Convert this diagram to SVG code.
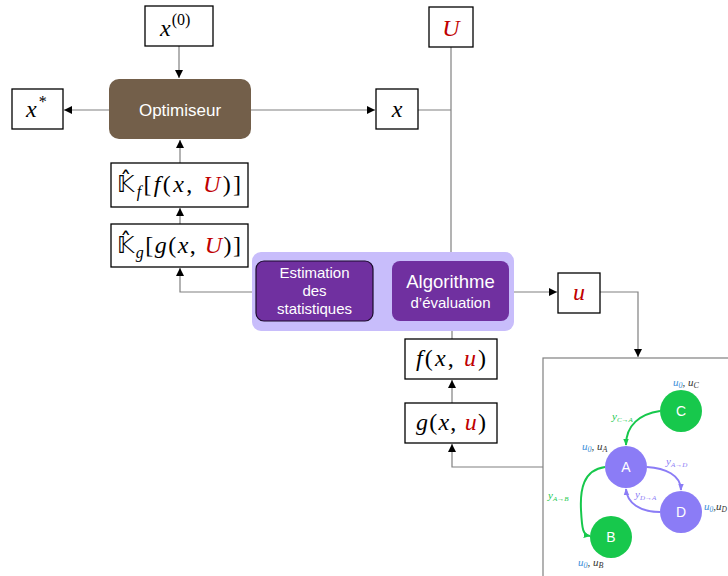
<svg xmlns="http://www.w3.org/2000/svg" width="728" height="576" viewBox="0 0 728 576">
<defs>
<marker id="ah" viewBox="0 0 10 10" refX="10" refY="5" markerWidth="8" markerHeight="8" orient="auto-start-reverse" markerUnits="userSpaceOnUse"><path d="M0,0 L10,5 L0,10 z" fill="#000"/></marker>
<marker id="ag" viewBox="0 0 10 10" refX="9" refY="5" markerWidth="7" markerHeight="7" orient="auto" markerUnits="userSpaceOnUse"><path d="M0,1 L10,5 L0,9 z" fill="#17c84c"/></marker>
<marker id="ap" viewBox="0 0 10 10" refX="9" refY="5" markerWidth="7" markerHeight="7" orient="auto" markerUnits="userSpaceOnUse"><path d="M0,1 L10,5 L0,9 z" fill="#8b7cf6"/></marker>
<style>
.box{fill:#fff;stroke:#000;stroke-width:1.3}
.m{font-family:"Liberation Serif","DejaVu Serif",serif;font-style:italic;font-size:24px;fill:#000}
.n{font-style:normal}
.r{fill:#c00000}
.ln{fill:none;stroke:#808080;stroke-width:1.2}
.w{font-family:"Liberation Sans",Arial,sans-serif;fill:#fff;text-anchor:middle}
.sm{font-family:"Liberation Serif","DejaVu Serif",serif;font-style:italic;font-size:11px}
.g{fill:#17c84c}
.p{fill:#8b7cf6}
.bl{fill:#3b8fd9}
.dk{fill:#333}
.bb{font-family:"DejaVu Sans",sans-serif;font-style:normal;font-size:23px}
</style>
</defs>
<rect width="728" height="576" fill="#fff"/>

<g id="connectors">
<path class="ln" d="M179,46 V78" marker-end="url(#ah)"/>
<path class="ln" d="M109,110 H64" marker-end="url(#ah)"/>
<path class="ln" d="M251,110 H375" marker-end="url(#ah)"/>
<path class="ln" d="M418,110 H451"/>
<path class="ln" d="M451,47 V261" marker-end="url(#ah)"/>
<path class="ln" d="M180,163 V140" marker-end="url(#ah)"/>
<path class="ln" d="M180,224 V208" marker-end="url(#ah)"/>
<path class="ln" d="M256,292 H180 V268" marker-end="url(#ah)"/>
<path class="ln" d="M392,292 H374" marker-end="url(#ah)"/>
<path class="ln" d="M509,292 H557" marker-end="url(#ah)"/>
<path class="ln" d="M600,292 H638 V357" marker-end="url(#ah)"/>
<path class="ln" d="M452,339 V322" marker-end="url(#ah)"/>
<path class="ln" d="M452,403 V380" marker-end="url(#ah)"/>
<path class="ln" d="M543,467 H452 V444" marker-end="url(#ah)"/>
</g>

<g id="x0">
<rect class="box" x="145" y="6" width="68" height="40"/>
<text class="m" x="160" y="36">x<tspan class="n" font-size="16" dy="-11" dx="1">(0)</tspan></text>
</g>

<g id="optimiseur">
<rect x="109" y="79" width="142" height="60" rx="10" fill="#735f4a"/>
<text class="w" x="180" y="116" font-size="17" fill="#f2f2f2">Optimiseur</text>
</g>

<g id="xstar">
<rect class="box" x="12" y="89" width="51" height="40"/>
<text class="m" x="26" y="117">x<tspan class="n" font-size="16" dy="-10" dx="2">*</tspan></text>
</g>

<g id="U">
<rect class="box" x="429" y="7" width="44" height="40"/>
<text class="m r" x="451" y="36" text-anchor="middle">U</text>
</g>

<g id="x">
<rect class="box" x="376" y="89" width="42" height="40"/>
<text class="m" x="397" y="117" text-anchor="middle">x</text>
</g>

<g id="Kf">
<rect class="box" x="111" y="163" width="137" height="44"/>
<text class="m" x="117" y="192" textLength="124" lengthAdjust="spacing"><tspan class="bb">𝕂̂</tspan><tspan font-size="16" dy="5">f</tspan><tspan class="n" dy="-5">[</tspan>f<tspan class="n">(</tspan>x<tspan class="n">, </tspan><tspan class="r">U</tspan><tspan class="n">)]</tspan></text>
</g>

<g id="Kg">
<rect class="box" x="111" y="224" width="137" height="43"/>
<text class="m" x="117" y="253" textLength="124" lengthAdjust="spacing"><tspan class="bb">𝕂̂</tspan><tspan font-size="16" dy="5">g</tspan><tspan class="n" dy="-5">[</tspan>g<tspan class="n">(</tspan>x<tspan class="n">, </tspan><tspan class="r">U</tspan><tspan class="n">)]</tspan></text>
</g>

<g id="group-bg">
<rect x="252" y="252" width="262" height="79" rx="9" fill="#c8bdfb"/>
</g>

<g id="estimation">
<rect x="256" y="261" width="117" height="60" rx="8" fill="#7030a0" stroke="#1a0a2a" stroke-width="1.2"/>
<text class="w" font-size="15"><tspan x="314.5" y="278">Estimation</tspan><tspan x="314.5" y="296">des</tspan><tspan x="314.5" y="314">statistiques</tspan></text>
</g>

<g id="algorithme">
<rect x="392" y="261" width="117" height="60" rx="8" fill="#7030a0"/>
<text class="w" x="450.5" y="288" font-size="18.5">Algorithme</text>
<text class="w" x="450.5" y="308" font-size="15">d’évaluation</text>
</g>

<g id="u">
<rect class="box" x="558" y="273" width="42" height="40"/>
<text class="m r" x="579" y="300" text-anchor="middle">u</text>
</g>

<g id="f">
<rect class="box" x="405" y="339" width="92" height="40"/>
<text class="m" x="451" y="366" text-anchor="middle" textLength="70" lengthAdjust="spacing">f<tspan class="n">(</tspan>x<tspan class="n">, </tspan><tspan class="r">u</tspan><tspan class="n">)</tspan></text>
</g>

<g id="g">
<rect class="box" x="405" y="403" width="92" height="40"/>
<text class="m" x="451" y="430" text-anchor="middle" textLength="70" lengthAdjust="spacing">g<tspan class="n">(</tspan>x<tspan class="n">, </tspan><tspan class="r">u</tspan><tspan class="n">)</tspan></text>
</g>

<g id="graph-panel">
<rect x="543" y="358" width="200" height="230" fill="#fff" stroke="#808080" stroke-width="1.2"/>
<path d="M660,411 C640,414 626,425 626,445" fill="none" stroke="#17c84c" stroke-width="2" marker-end="url(#ag)"/>
<path d="M605,467 C583,470 580,490 581,510 C582,530 583,535 590,536" fill="none" stroke="#17c84c" stroke-width="2" marker-end="url(#ag)"/>
<path d="M647,467 C665,468 681,475 681,490" fill="none" stroke="#8b7cf6" stroke-width="2" marker-end="url(#ap)"/>
<path d="M660,512 C640,512 627,503 626,489" fill="none" stroke="#8b7cf6" stroke-width="2" marker-end="url(#ap)"/>
<circle cx="681" cy="411" r="21" fill="#17c84c"/>
<circle cx="626" cy="467" r="21" fill="#8b7cf6"/>
<circle cx="681" cy="512" r="21" fill="#8b7cf6"/>
<circle cx="611" cy="537" r="21" fill="#17c84c"/>
<text class="w" x="681" y="416" font-size="14">C</text>
<text class="w" x="626" y="472" font-size="14">A</text>
<text class="w" x="681" y="517" font-size="14">D</text>
<text class="w" x="611" y="542" font-size="14">B</text>
<text class="sm" x="673" y="386"><tspan class="bl">u</tspan><tspan font-size="8" class="bl" dy="2">0</tspan><tspan class="dk" dy="-2">, u</tspan><tspan font-size="8" class="dk" dy="2">C</tspan></text>
<text class="sm" x="582" y="450"><tspan class="bl">u</tspan><tspan font-size="8" class="bl" dy="2">0</tspan><tspan class="dk" dy="-2">, u</tspan><tspan font-size="8" class="dk" dy="2">A</tspan></text>
<text class="sm" x="704" y="510" font-size="10.5"><tspan class="bl">u</tspan><tspan font-size="7.5" class="bl" dy="2">0</tspan><tspan class="dk" dy="-2">,u</tspan><tspan font-size="7.5" class="dk" dy="2">D</tspan></text>
<text class="sm" x="578" y="566"><tspan class="bl">u</tspan><tspan font-size="8" class="bl" dy="2">0</tspan><tspan class="dk" dy="-2">, u</tspan><tspan font-size="8" class="dk" dy="2">B</tspan></text>
<text class="sm g" x="612" y="420">y<tspan font-size="7" dy="2">C→A</tspan></text>
<text class="sm g" x="548" y="499">y<tspan font-size="7" dy="2">A→B</tspan></text>
<text class="sm p" x="666" y="465">y<tspan font-size="7" dy="2">A→D</tspan></text>
<text class="sm p" x="635" y="498">y<tspan font-size="7" dy="2">D→A</tspan></text>
</g>
</svg>
